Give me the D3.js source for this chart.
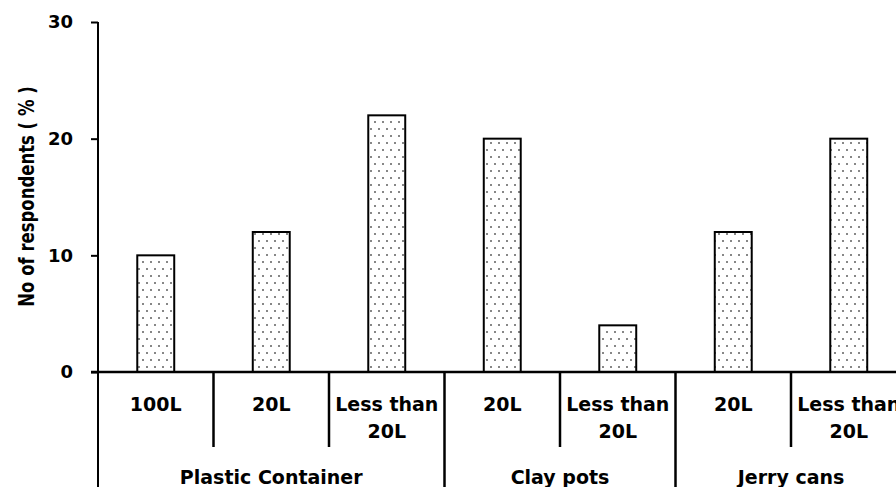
<!DOCTYPE html>
<html><head><meta charset="utf-8">
<script src="https://cdn.jsdelivr.net/npm/d3@7"></script>
<style>body{margin:0;background:#fff;} svg{display:block;}</style>
</head><body>
<script>
const categories = ["100L", "20L", "Less than 20L", "20L ", "Less than 20L ", "20L  ", "Less than 20L  "];
const catLabels = [["100L"], ["20L"], ["Less than", "20L"], ["20L"], ["Less than", "20L"], ["20L"], ["Less than", "20L"]];
const groups = ["Plastic Container", "Clay pots", "Jerry cans"];
const groupSizes = [3, 2, 2];
const values = [10, 12, 22, 20, 4, 12, 20];
const yTicks = [0, 10, 20, 30];
const yTitle = "No of respondents ( % )";

const W = 896, H = 487;
const x0 = 98, step = 115.5;
const svg = d3.select("body").append("svg").attr("width", W).attr("height", H);
const font = "'DejaVu Sans', sans-serif";
const fs = 19;

const defs = svg.append("defs");
const pat = defs.append("pattern").attr("id", "dots").attr("patternUnits", "userSpaceOnUse")
  .attr("width", 16).attr("height", 14);
pat.append("rect").attr("width", 16).attr("height", 14).attr("fill", "#fff");
[[3,3],[11,3],[7,10],[15,10]].forEach(([cx,cy]) =>
  pat.append("rect").attr("x", cx-0.8).attr("y", cy-0.8).attr("width", 1.6).attr("height", 1.6).attr("fill", "#444"));

const x = d3.scaleBand().domain(categories).range([x0, x0 + step * categories.length]).padding(0);
const y = d3.scaleLinear().domain([0, 30]).range([372, 22]);

// bars
const bw = x.bandwidth() * 0.32;
svg.selectAll("rect.bar").data(values).join("rect").attr("class", "bar")
  .attr("x", (d, i) => x(categories[i]) + x.bandwidth() / 2 - bw / 2)
  .attr("y", d => y(d))
  .attr("width", bw)
  .attr("height", d => y(0) - y(d))
  .attr("fill", "url(#dots)").attr("stroke", "#000").attr("stroke-width", 2);

// y axis
const yAxis = d3.axisLeft(y).tickValues(yTicks).tickSize(7).tickPadding(18);
const ga = svg.append("g").attr("transform", `translate(${x0},0)`).call(yAxis);
ga.select(".domain").remove();
ga.selectAll(".tick line").attr("stroke", "#000").attr("stroke-width", 2);
ga.selectAll(".tick text").attr("font-family", font).attr("font-weight", 700).attr("font-size", 18).attr("fill", "#000");
svg.append("line").attr("x1", x0).attr("x2", x0).attr("y1", y(30)).attr("y2", H).attr("stroke", "#000").attr("stroke-width", 2);

// x axis line
svg.append("line").attr("x1", x0 - 7).attr("x2", W).attr("y1", y(0)).attr("y2", y(0)).attr("stroke", "#000").attr("stroke-width", 2.5);

// category dividers
let idx = 0;
const groupBounds = [];
groupSizes.forEach((n, gi) => {
  const start = idx;
  for (let k = 1; k < n; k++) {
    const xx = x(categories[start + k]);
    svg.append("line").attr("x1", xx).attr("x2", xx).attr("y1", y(0)).attr("y2", 447).attr("stroke", "#000").attr("stroke-width", 2.5);
  }
  idx += n;
  groupBounds.push([start, idx]);
  const xe = x0 + step * idx;
  svg.append("line").attr("x1", xe).attr("x2", xe).attr("y1", y(0)).attr("y2", H).attr("stroke", "#000").attr("stroke-width", 2.5);
});

// category labels
catLabels.forEach((lines, i) => {
  const cx = x(categories[i]) + x.bandwidth() / 2;
  lines.forEach((t, j) => {
    svg.append("text").attr("x", cx).attr("y", 404 + j * 27).attr("dy", "0.36em")
      .attr("text-anchor", "middle").attr("font-family", font).attr("font-weight", 700).attr("font-size", fs).text(t);
  });
});

// group labels
groups.forEach((g, gi) => {
  const [s, e] = groupBounds[gi];
  const cx = x0 + step * (s + e) / 2;
  svg.append("text").attr("x", cx).attr("y", 477).attr("dy", "0.36em")
    .attr("text-anchor", "middle").attr("font-family", font).attr("font-weight", 700).attr("font-size", fs).text(g);
});

// y title
svg.append("text").attr("transform", `translate(26,196.5) rotate(-90) scale(1,1.3)`).attr("dy", "0.36em")
  .attr("text-anchor", "middle").attr("font-family", font).attr("font-weight", 700).attr("font-size", 16.5).text(yTitle);
</script>
</body></html>
